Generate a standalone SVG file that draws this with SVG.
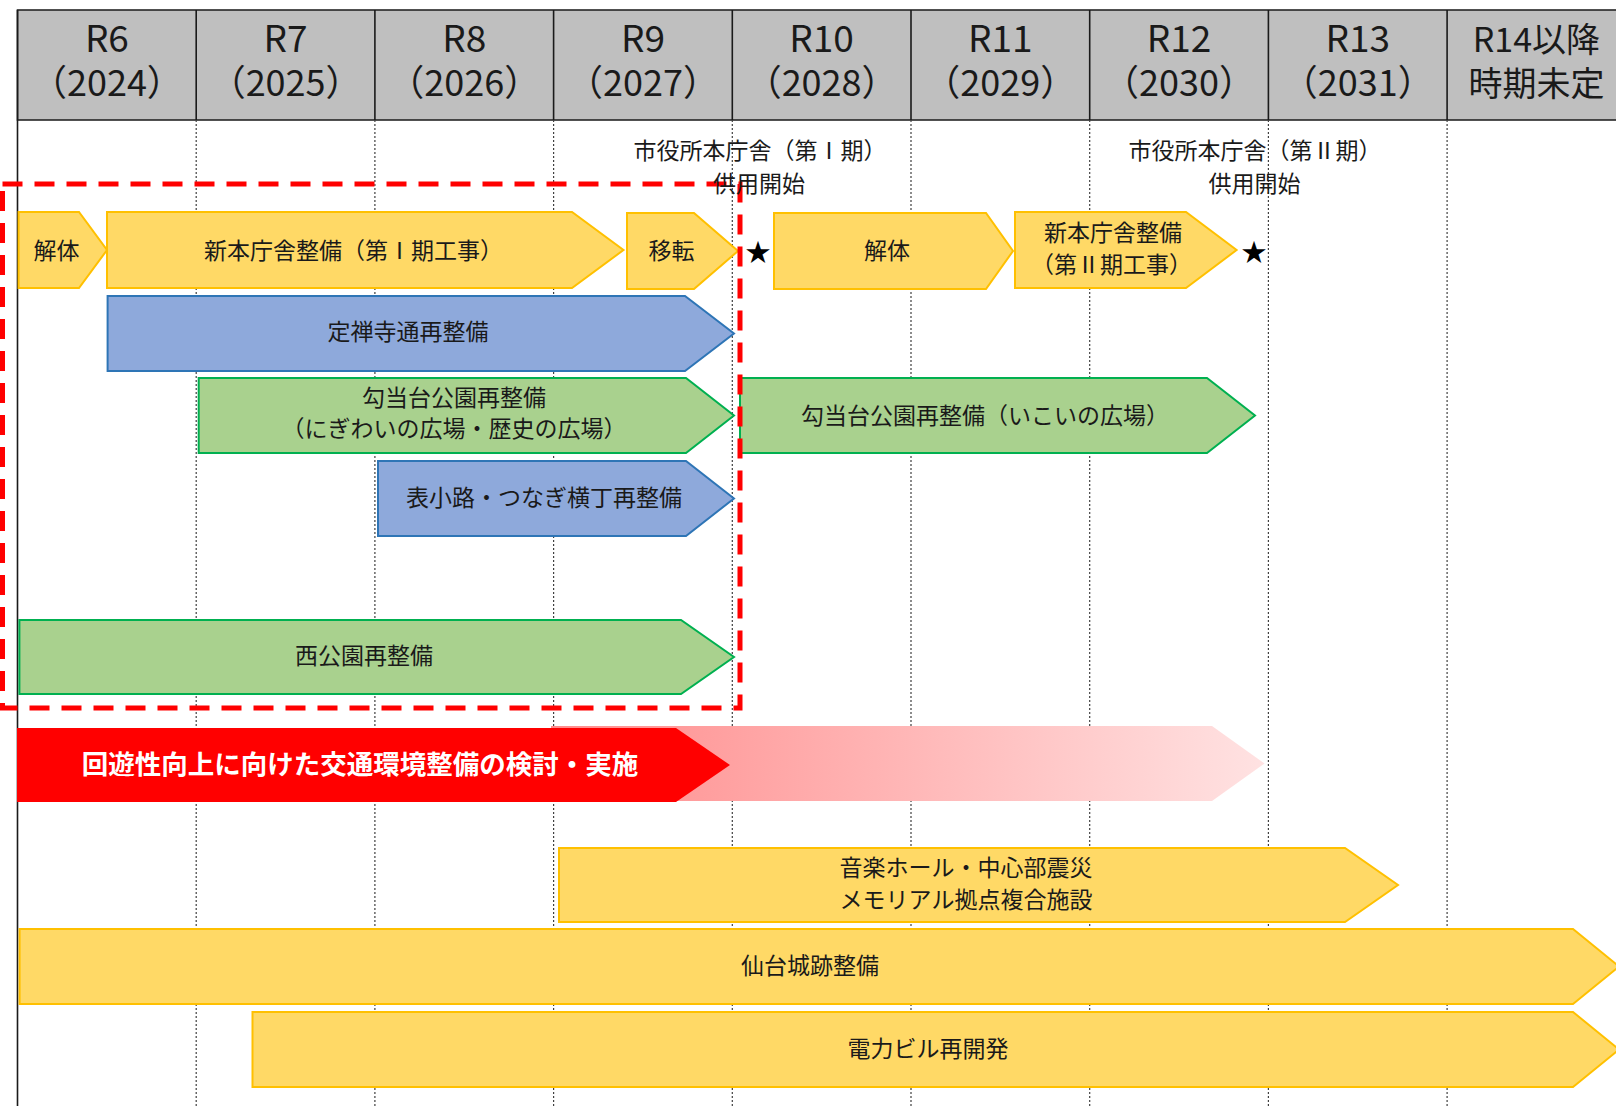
<svg xmlns="http://www.w3.org/2000/svg" width="1616" height="1106" viewBox="0 0 1616 1106">
<defs>
<style>
text{font-family:"Noto Sans CJK JP","Noto Sans",sans-serif;fill:#1a1a1a;text-anchor:middle;dominant-baseline:central}
.hd{font-size:37px}
.hy{font-size:36px}
.hj{font-size:34px}
.lb{font-size:23px}
.ms{font-size:23px}
.star{font-size:25px;fill:#000}
.wt{font-size:26.5px;font-weight:bold;fill:#fff}
.grid{stroke:#404040;stroke-width:1.2;stroke-dasharray:2 2;fill:none}
.hline{stroke:#1a1a1a;stroke-width:1.6;fill:none}
.yel{fill:#FFD966;stroke:#FFC000;stroke-width:2}
.blu{fill:#8EA9DB;stroke:#2E75B6;stroke-width:2}
.grn{fill:#A9D18E;stroke:#00B050;stroke-width:2}
</style>
<linearGradient id="fade" x1="551" y1="0" x2="1265" y2="0" gradientUnits="userSpaceOnUse">
<stop offset="0" stop-color="#FF8C8C"/>
<stop offset="1" stop-color="#FFE2E2"/>
</linearGradient>
</defs>
<rect width="1616" height="1106" fill="#fff"/>

<g id="header">
<rect x="17.5" y="10" width="1610" height="110" fill="#BFBFBF" stroke="#262626" stroke-width="1.6"/>
<g class="hline">
<line x1="196.2" y1="10" x2="196.2" y2="120"/>
<line x1="374.9" y1="10" x2="374.9" y2="120"/>
<line x1="553.6" y1="10" x2="553.6" y2="120"/>
<line x1="732.3" y1="10" x2="732.3" y2="120"/>
<line x1="911" y1="10" x2="911" y2="120"/>
<line x1="1089.7" y1="10" x2="1089.7" y2="120"/>
<line x1="1268.4" y1="10" x2="1268.4" y2="120"/>
<line x1="1447.1" y1="10" x2="1447.1" y2="120"/>
</g>
<text class="hd" x="106.9" y="36">R6</text><text class="hy" x="106.9" y="80">（2024）</text>
<text class="hd" x="285.6" y="36">R7</text><text class="hy" x="285.6" y="80">（2025）</text>
<text class="hd" x="464.3" y="36">R8</text><text class="hy" x="464.3" y="80">（2026）</text>
<text class="hd" x="643" y="36">R9</text><text class="hy" x="643" y="80">（2027）</text>
<text class="hd" x="821.6" y="36">R10</text><text class="hy" x="821.6" y="80">（2028）</text>
<text class="hd" x="1000.3" y="36">R11</text><text class="hy" x="1000.3" y="80">（2029）</text>
<text class="hd" x="1179" y="36">R12</text><text class="hy" x="1179" y="80">（2030）</text>
<text class="hd" x="1357.7" y="36">R13</text><text class="hy" x="1357.7" y="80">（2031）</text>
<text class="hj" x="1536.4" y="37">R14以降</text><text class="hj" x="1536.4" y="81">時期未定</text>
</g>

<g id="grid">
<line class="grid" x1="196.2" y1="120" x2="196.2" y2="1106"/>
<line class="grid" x1="374.9" y1="120" x2="374.9" y2="1106"/>
<line class="grid" x1="553.6" y1="120" x2="553.6" y2="1106"/>
<line class="grid" x1="732.3" y1="120" x2="732.3" y2="1106"/>
<line class="grid" x1="911" y1="120" x2="911" y2="1106"/>
<line class="grid" x1="1089.7" y1="120" x2="1089.7" y2="1106"/>
<line class="grid" x1="1268.4" y1="120" x2="1268.4" y2="1106"/>
<line class="grid" x1="1447.1" y1="120" x2="1447.1" y2="1106"/>
<line x1="17.5" y1="10" x2="17.5" y2="1106" stroke="#1a1a1a" stroke-width="1.6"/>
</g>

<g id="n-kaitai1"><polygon class="yel" points="18.6,212 79,212 107,250 79,288 18.6,288"/><text class="lb" x="56.6" y="249">解体</text></g>
<g id="n-shinhoncho1"><polygon class="yel" points="107,212 572,212 623.5,250 572,288 107,288"/><text class="lb" x="353.5" y="249">新本庁舎整備（第Ⅰ期工事）</text></g>
<g id="n-iten"><polygon class="yel" points="627,213 694,213 738,251 694,289 627,289"/><text class="lb" x="671.6" y="249">移転</text></g>
<g id="n-kaitai2"><polygon class="yel" points="774,213 986,213 1013,251 986,289 774,289"/><text class="lb" x="887" y="249">解体</text></g>
<g id="n-shinhoncho2"><polygon class="yel" points="1015,212 1186,212 1236.6,250 1186,288 1015,288"/><text class="lb" x="1113" y="231">新本庁舎整備</text><text class="lb" x="1111.5" y="263">（第Ⅱ期工事）</text></g>
<g id="n-jozenji"><polygon class="blu" points="107.6,296 685,296 734,333.5 685,371 107.6,371"/><text class="lb" x="408" y="330">定禅寺通再整備</text></g>
<g id="n-koto1"><polygon class="grn" points="198.7,378 686,378 734,415.5 686,453 198.7,453"/><text class="lb" x="454" y="396">勾当台公園再整備</text><text class="lb" x="454" y="427">（にぎわいの広場・歴史の広場）</text></g>
<g id="n-koto2"><polygon class="grn" points="740,378 1207,378 1255,415.5 1207,453 740,453"/><text class="lb" x="985" y="414">勾当台公園再整備（いこいの広場）</text></g>
<g id="n-omote"><polygon class="blu" points="378,461 686,461 734,498.5 686,536 378,536"/><text class="lb" x="544" y="496">表小路・つなぎ横丁再整備</text></g>
<g id="n-nishi"><polygon class="grn" points="19.4,620 681,620 734,657 681,694 19.4,694"/><text class="lb" x="364" y="654">西公園再整備</text></g>

<g id="redbox"><rect x="2.5" y="184" width="737.5" height="524" fill="none" stroke="#FF0000" stroke-width="5" stroke-dasharray="20 12"/></g>

<g id="milestones">
<text class="ms" x="760" y="149">市役所本庁舎（第Ⅰ期）</text>
<text class="ms" x="759" y="182">供用開始</text>
<text class="ms" x="1255" y="149">市役所本庁舎（第Ⅱ期）</text>
<text class="ms" x="1254.5" y="182">供用開始</text>
<text class="star" x="758" y="250">★</text>
<text class="star" x="1254" y="250">★</text>
</g>

<g id="n-kotsu">
<polygon points="551,726 1212,726 1264.5,763.5 1212,801 551,801" fill="url(#fade)"/>
<polygon points="17,728 676,728 730,765 676,802 17,802" fill="#FF0000"/>
<text class="wt" x="360" y="762">回遊性向上に向けた交通環境整備の検討・実施</text>
</g>

<g id="n-music"><polygon class="yel" points="559,848 1345,848 1398,885 1345,922 559,922"/><text class="lb" x="966" y="866">音楽ホール・中心部震災</text><text class="lb" x="966" y="898">メモリアル拠点複合施設</text></g>
<g id="n-castle"><polygon class="yel" points="19.6,929 1573,929 1619,966.5 1573,1004 19.6,1004"/><text class="lb" x="810" y="964">仙台城跡整備</text></g>
<g id="n-denryoku"><polygon class="yel" points="252.5,1012 1573,1012 1619,1049.5 1573,1087 252.5,1087"/><text class="lb" x="928" y="1047">電力ビル再開発</text></g>

<g id="connectors"></g>
</svg>
